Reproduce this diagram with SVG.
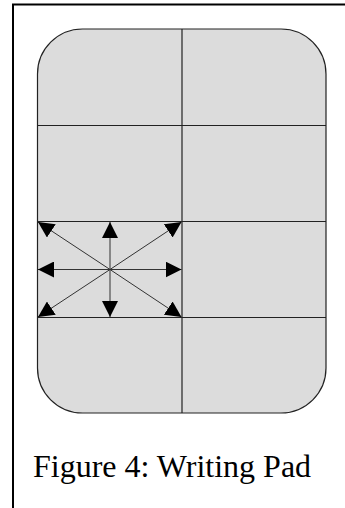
<svg xmlns="http://www.w3.org/2000/svg" width="345" height="508" viewBox="0 0 345 508">
  <defs>
    <marker id="ah" markerUnits="userSpaceOnUse" markerWidth="16" markerHeight="16" viewBox="0 0 15 15" refX="15" refY="7.5" orient="auto">
      <path d="M0,0 L15,7.5 L0,15 z" fill="#000"/>
    </marker>
    <style>
      .grid { stroke: #222; stroke-width: 1.2; fill: none; }
      .arrow { stroke: #333; stroke-width: 1; fill: none; marker-end: url(#ah); }
      .cap { font-family: "Liberation Serif", "DejaVu Serif", serif; font-size: 32px; fill: #000; }
    </style>
  </defs>
  <rect width="345" height="508" fill="#fff"/>
  <g id="frame">
    <path d="M13,508 L13,4.5 L345,4.5" fill="none" stroke="#000" stroke-width="2"/>
  </g>
  <g id="pad">
    <rect x="37.5" y="29" width="288.5" height="384" rx="45" ry="45" fill="#dcdcdc" stroke="#222" stroke-width="1.2"/>
    <line class="grid" x1="182" y1="29" x2="182" y2="413"/>
    <line class="grid" x1="37.5" y1="125.5" x2="326" y2="125.5"/>
    <line class="grid" x1="37.5" y1="221.5" x2="326" y2="221.5"/>
    <line class="grid" x1="37.5" y1="317.5" x2="326" y2="317.5"/>
  </g>
  <g id="connectors">
    <line class="arrow" x1="110" y1="269.5" x2="110" y2="222"/>
    <line class="arrow" x1="110" y1="269.5" x2="110" y2="317"/>
    <line class="arrow" x1="110" y1="269.5" x2="38" y2="269.5"/>
    <line class="arrow" x1="110" y1="269.5" x2="181.5" y2="269.5"/>
    <line class="arrow" x1="110" y1="269.5" x2="38" y2="222"/>
    <line class="arrow" x1="110" y1="269.5" x2="181.5" y2="222"/>
    <line class="arrow" x1="110" y1="269.5" x2="38" y2="317"/>
    <line class="arrow" x1="110" y1="269.5" x2="181.5" y2="317"/>
  </g>
  <g id="caption">
    <text class="cap" x="33" y="476.5">Figure 4: Writing Pad</text>
  </g>
</svg>
